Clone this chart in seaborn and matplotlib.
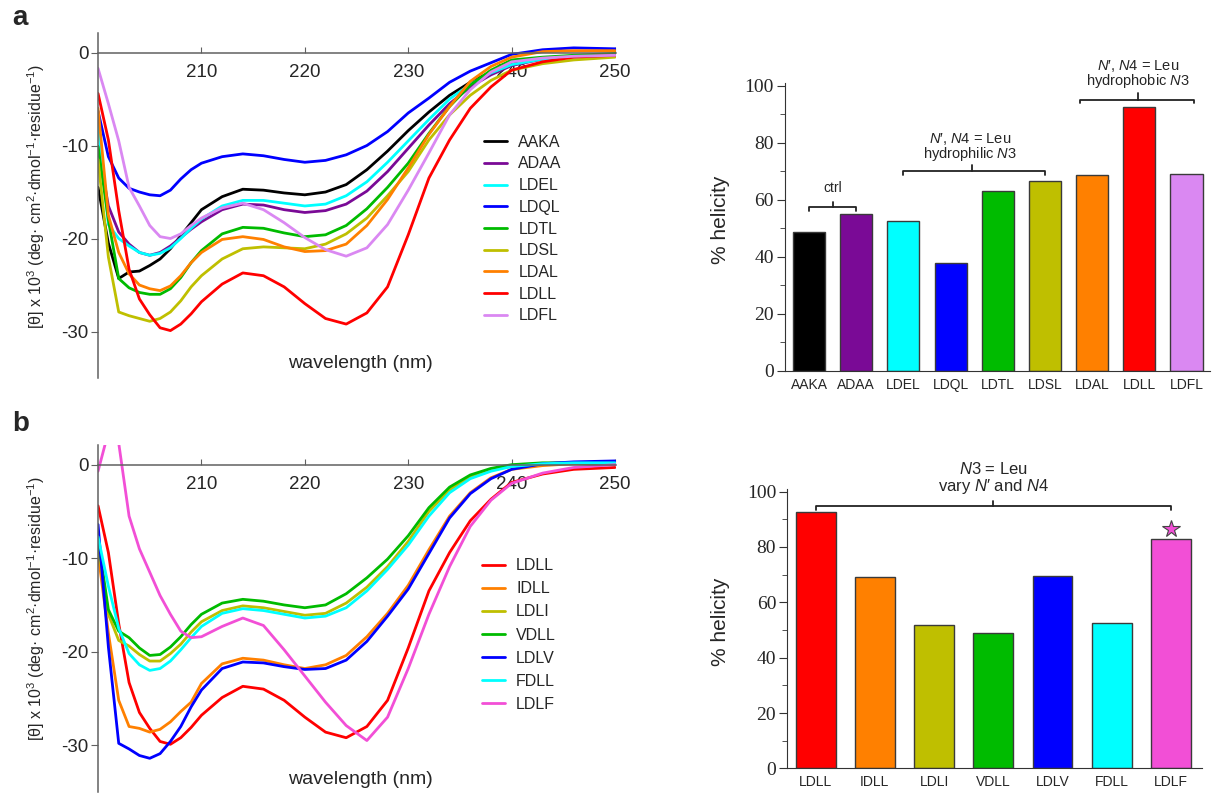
import matplotlib
matplotlib.use("Agg")
import matplotlib.pyplot as plt
from matplotlib.ticker import MultipleLocator
import seaborn as sns

# wavelength grid (nm) shared by all CD spectra
wl = [200, 201, 202, 203, 204, 205, 206, 207, 208, 209, 210, 212, 214, 216, 218,
      220, 222, 224, 226, 228, 230, 232, 234, 236, 238, 240, 243, 246, 250]

# panel a spectra, [theta] x 10^3
cd_aaka = [-14.5, -20.5, -24.3, -23.6, -23.5, -22.9, -22.2, -21.1, -19.7, -18.3, -16.9, -15.5, -14.7, -14.8, -15.1,
           -15.3, -15.0, -14.2, -12.6, -10.6, -8.4, -6.4, -4.6, -3.2, -2.1, -1.2, -0.6, -0.4, -0.2]
cd_adaa = [-10.1, -16.5, -19.3, -20.6, -21.5, -21.8, -21.5, -20.8, -19.9, -19.0, -18.2, -16.9, -16.3, -16.4, -16.9,
           -17.2, -17.0, -16.3, -14.9, -12.8, -10.3, -7.8, -5.5, -3.7, -2.4, -1.4, -0.7, -0.4, -0.3]
cd_ldel = [-7.6, -18.5, -20.0, -20.8, -21.5, -21.8, -21.6, -21.0, -20.0, -18.9, -17.9, -16.5, -15.9, -15.9, -16.2,
           -16.5, -16.3, -15.4, -13.9, -11.8, -9.5, -7.2, -5.0, -3.4, -2.2, -1.3, -0.7, -0.5, -0.4]
cd_ldql = [-6.3, -11.2, -13.5, -14.6, -15.0, -15.3, -15.4, -14.8, -13.6, -12.6, -11.9, -11.2, -10.9, -11.1, -11.5,
           -11.8, -11.6, -11.0, -10.0, -8.5, -6.5, -4.9, -3.2, -2.0, -1.1, -0.2, 0.3, 0.5, 0.4]
cd_ldtl = [-10.1, -18.0, -24.3, -25.3, -25.8, -26.0, -26.0, -25.4, -24.2, -22.6, -21.3, -19.5, -18.8, -18.9, -19.4,
           -19.8, -19.6, -18.6, -16.8, -14.5, -11.9, -8.7, -5.8, -3.5, -1.9, -0.8, -0.5, -0.3, -0.1]
cd_ldsl = [-11.5, -22.0, -27.9, -28.3, -28.6, -28.9, -28.6, -27.9, -26.7, -25.2, -24.0, -22.2, -21.1, -20.9, -21.0,
           -21.1, -20.6, -19.5, -17.8, -15.4, -12.8, -9.4, -6.7, -4.6, -3.0, -1.9, -1.2, -0.8, -0.5]
cd_ldal = [-6.0, -17.5, -21.5, -23.8, -25.0, -25.4, -25.6, -25.1, -24.0, -22.6, -21.5, -20.1, -19.8, -20.1, -20.9,
           -21.4, -21.3, -20.6, -18.6, -15.8, -12.4, -8.8, -5.8, -3.1, -1.5, -0.5, 0.1, 0.2, 0.2]
cd_ldll = [-4.4, -9.4, -17.0, -23.3, -26.5, -28.2, -29.6, -29.9, -29.2, -28.1, -26.8, -24.9, -23.7, -24.0, -25.2,
           -27.0, -28.6, -29.2, -28.0, -25.2, -19.6, -13.5, -9.4, -6.0, -3.7, -1.9, -1.0, -0.5, -0.3]
cd_ldfl = [-1.7, -5.5, -9.5, -14.5, -16.5, -18.6, -19.8, -20.0, -19.5, -18.6, -17.8, -16.7, -16.2, -16.9, -18.3,
           -19.9, -21.2, -21.9, -21.0, -18.5, -14.8, -10.8, -6.7, -4.0, -2.1, -1.0, -0.6, -0.4, -0.3]

# panel b spectra (LDLL is the same as in panel a)
cd_idll = [-9.5, -18.0, -25.2, -28.0, -28.2, -28.6, -28.3, -27.5, -26.4, -25.4, -23.4, -21.3, -20.7, -20.9, -21.4,
           -21.8, -21.4, -20.4, -18.4, -15.9, -12.9, -9.1, -5.5, -3.0, -1.4, -0.5, -0.1, 0.1, 0.1]
cd_ldli = [-8.7, -16.0, -18.8, -19.4, -20.3, -21.0, -21.0, -20.2, -19.2, -17.9, -16.8, -15.6, -15.1, -15.3, -15.7,
           -16.1, -15.9, -14.8, -13.1, -10.9, -8.2, -5.0, -2.7, -1.3, -0.5, -0.2, 0.1, 0.2, 0.2]
cd_vdll = [-8.0, -15.5, -17.8, -18.5, -19.6, -20.4, -20.3, -19.5, -18.4, -17.1, -16.0, -14.8, -14.4, -14.6, -15.0,
           -15.3, -15.0, -13.8, -12.1, -10.1, -7.6, -4.6, -2.4, -1.1, -0.4, 0.0, 0.2, 0.2, 0.1]
cd_ldlv = [-6.4, -19.5, -29.8, -30.4, -31.1, -31.4, -30.9, -29.6, -28.0, -25.9, -24.1, -21.8, -21.1, -21.2, -21.6,
           -21.9, -21.8, -20.9, -18.9, -16.2, -13.3, -9.5, -5.7, -3.1, -1.5, -0.5, 0.1, 0.3, 0.4]
cd_fdll = [-7.7, -13.0, -17.5, -20.2, -21.4, -22.0, -21.8, -21.0, -19.8, -18.5, -17.3, -15.9, -15.4, -15.6, -16.0,
           -16.4, -16.2, -15.3, -13.5, -11.2, -8.6, -5.5, -3.0, -1.5, -0.7, -0.2, 0.1, 0.2, 0.2]
cd_ldlf = [-0.7, 3.5, 2.3, -5.5, -9.0, -11.5, -14.0, -16.0, -17.8, -18.5, -18.4, -17.3, -16.4, -17.2, -19.8,
           -22.6, -25.4, -27.9, -29.5, -27.0, -21.8, -16.0, -10.9, -6.6, -3.8, -2.0, -0.9, -0.3, 0.0]

# % helicity
hel_a_names = ['AAKA', 'ADAA', 'LDEL', 'LDQL', 'LDTL', 'LDSL', 'LDAL', 'LDLL', 'LDFL']
hel_a = [48.6, 55.0, 52.5, 37.7, 63.0, 66.6, 68.8, 92.4, 69.0]
hel_b_names = ['LDLL', 'IDLL', 'LDLI', 'VDLL', 'LDLV', 'FDLL', 'LDLF']
hel_b = [92.7, 69.2, 51.9, 48.8, 69.5, 52.6, 83.0]

colors = {'AAKA': '#000000', 'ADAA': '#7A0A96', 'LDEL': '#00FFFF', 'LDQL': '#0000FF',
          'LDTL': '#00BB00', 'LDSL': '#BFBF00', 'LDAL': '#FF8000', 'LDLL': '#FF0000',
          'LDFL': '#DA88F2', 'IDLL': '#FF8000', 'LDLI': '#BFBF00', 'VDLL': '#00BB00',
          'LDLV': '#0000FF', 'FDLL': '#00FFFF', 'LDLF': '#F24FD6'}

spectra_a = [('AAKA', cd_aaka), ('ADAA', cd_adaa), ('LDEL', cd_ldel), ('LDQL', cd_ldql),
             ('LDTL', cd_ldtl), ('LDSL', cd_ldsl), ('LDAL', cd_ldal), ('LDLL', cd_ldll),
             ('LDFL', cd_ldfl)]
spectra_b = [('LDLL', cd_ldll), ('IDLL', cd_idll), ('LDLI', cd_ldli), ('VDLL', cd_vdll),
             ('LDLV', cd_ldlv), ('FDLL', cd_fdll), ('LDLF', cd_ldlf)]

sns.set_style("ticks")
plt.rcParams['font.family'] = ['Liberation Sans', 'DejaVu Sans']
plt.rcParams['mathtext.fontset'] = 'custom'
plt.rcParams['mathtext.rm'] = 'Liberation Sans'
plt.rcParams['mathtext.it'] = 'Liberation Sans:italic'
plt.rcParams['axes.unicode_minus'] = False

fig = plt.figure(figsize=(12.12, 7.93), dpi=100)
ax_a = fig.add_axes([0.0809, 0.5233, 0.4274, 0.4351])
ax_b = fig.add_axes([0.0809, 0.0013, 0.4274, 0.4375])
ax_c = fig.add_axes([0.6477, 0.5325, 0.3507, 0.3630])
ax_d = fig.add_axes([0.6496, 0.0311, 0.3419, 0.3524])

ylab = r'[θ] x 10$^3$ (deg· cm$^2$·dmol$^{-1}$·residue$^{-1}$)'
spine_col = '#606060'


def cd_panel(ax, spectra, legend_anchor, lab_y, spacing):
    for name, vals in spectra:
        sns.lineplot(x=wl, y=vals, color=colors[name], lw=2.0, label=name, ax=ax)
    ax.set_xlim(200, 250.1)
    ax.set_ylim(-35, 2.1)
    ax.spines['bottom'].set_position(('data', 0))
    ax.spines['top'].set_visible(False)
    ax.spines['right'].set_visible(False)
    for s in ('left', 'bottom'):
        ax.spines[s].set_color(spine_col)
        ax.spines[s].set_linewidth(1.1)
    ax.set_xticks([210, 220, 230, 240, 250])
    ax.set_yticks([0, -10, -20, -30])
    ax.tick_params(axis='x', direction='in', length=4, pad=8.5, labelsize=13.5, color=spine_col)
    ax.tick_params(axis='y', direction='out', length=5, pad=2, labelsize=13.5, color=spine_col)
    ax.set_axisbelow(True)
    ax.set_ylabel(ylab, fontsize=11.5)
    ax.yaxis.set_label_coords(-0.098, 0.527)
    ax.set_xlabel('wavelength (nm)', fontsize=14)
    ax.xaxis.set_label_coords(0.506, lab_y)
    ax.legend(loc='upper left', bbox_to_anchor=legend_anchor, frameon=False, fontsize=11.5,
              handlelength=1.45, handletextpad=0.7, labelspacing=spacing,
              borderaxespad=0, borderpad=0)


cd_panel(ax_a, spectra_a, (0.745, 0.705), 0.067, 0.42)
cd_panel(ax_b, spectra_b, (0.741, 0.674), 0.061, 0.51)


def bar_panel(ax, names, vals, width, xlim):
    sns.barplot(x=names, y=vals, hue=names, palette=[colors[n] for n in names], legend=False,
                saturation=1, width=width, edgecolor='#3a3a3a', linewidth=1, ax=ax)
    ax.set_xlim(*xlim)
    ax.set_ylim(0, 101)
    ax.set_yticks(range(0, 101, 20), labels=[str(v) for v in range(0, 101, 20)],
                  fontfamily='Liberation Serif', fontsize=14)
    ax.yaxis.set_minor_locator(MultipleLocator(10))
    ax.spines['top'].set_visible(False)
    ax.spines['right'].set_visible(False)
    for s in ('left', 'bottom'):
        ax.spines[s].set_color('#333333')
    ax.tick_params(axis='y', which='major', length=6, pad=2, color='#333333')
    ax.tick_params(axis='y', which='minor', length=3.5, color='#333333')
    ax.tick_params(axis='x', length=0, labelsize=10, pad=5)
    ax.set_ylabel('% helicity', fontsize=15)
    ax.set_xlabel('')


bar_panel(ax_c, hel_a_names, hel_a, 0.68, (-0.51, 8.5))
bar_panel(ax_d, hel_b_names, hel_b, 0.67, (-0.48, 6.52))
ax_c.yaxis.set_label_coords(-0.129, 0.523)
ax_d.yaxis.set_label_coords(-0.138, 0.525)


def bracket(ax, x0, x1, y, drop, xc, rise):
    kw = dict(color='#222222', lw=1.3, clip_on=False)
    ax.plot([x0, x0, x1, x1], [y - drop, y, y, y - drop], **kw)
    ax.plot([xc, xc], [y, y + rise], **kw)


nprime_n4 = r"$\mathit{N}$′, $\mathit{N4}$ = Leu"
bracket(ax_c, 0, 1, 57.5, 1.5, 0.5, 1.8)
ax_c.text(0.5, 64.0, 'ctrl', ha='center', va='center', fontsize=10)
bracket(ax_c, 2, 5, 70.2, 1.6, 3.45, 2.1)
ax_c.text(3.42, 81.2, nprime_n4, ha='center', va='center', fontsize=10.5)
ax_c.text(3.42, 76.0, r"hydrophilic $\mathit{N3}$", ha='center', va='center', fontsize=10.5)
bracket(ax_c, 5.75, 8.16, 95.0, 1.2, 6.98, 2.3)
ax_c.text(6.97, 107.0, nprime_n4, ha='center', va='center', fontsize=10.5)
ax_c.text(6.97, 101.8, r"hydrophobic $\mathit{N3}$", ha='center', va='center', fontsize=10.5)

bracket(ax_d, 0, 6, 94.9, 1.4, 3.0, 1.8)
ax_d.text(3.0, 108.1, r"$\mathit{N3}$ = Leu", ha='center', va='center', fontsize=12)
ax_d.text(3.0, 102.0, r"vary $\mathit{N}$′ and $\mathit{N4}$", ha='center', va='center', fontsize=12)
ax_d.plot([6], [86.5], marker='*', ms=13, color=colors['LDLF'], mec='#444444', mew=0.8,
          clip_on=False)

fig.text(0.0161, 0.9767, 'a', fontsize=20, fontweight='bold', ha='center', va='center')
fig.text(0.0169, 0.4653, 'b', fontsize=20, fontweight='bold', ha='center', va='center')

fig.savefig('out.png', dpi=100)
